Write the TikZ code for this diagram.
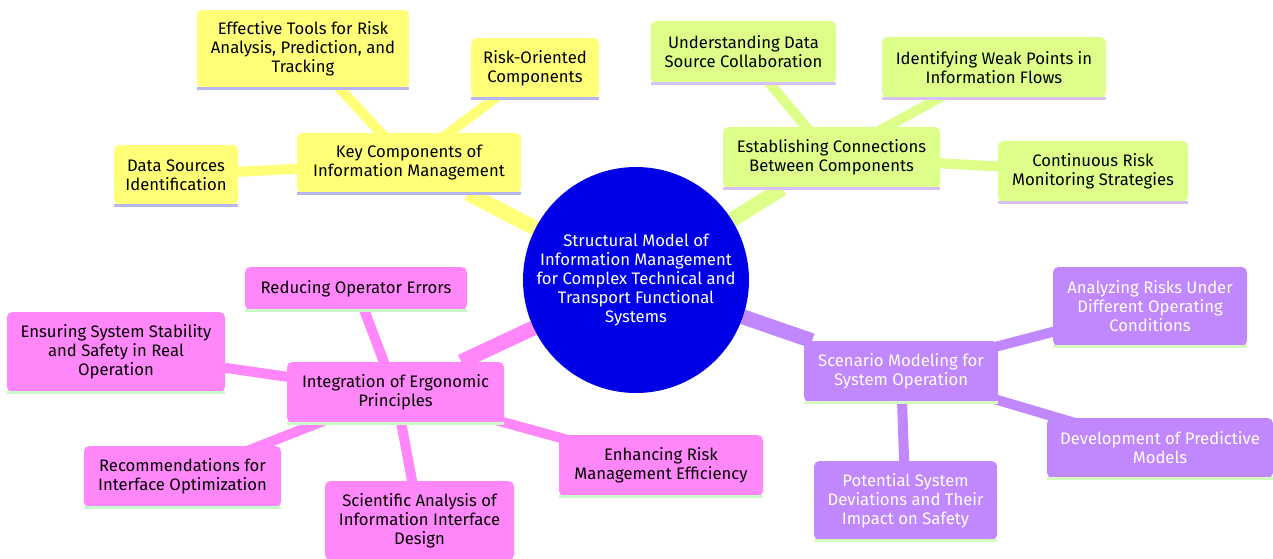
\documentclass[tikz,border=0pt]{standalone}
\usepackage{fontspec}
\setmainfont{Fira Sans}
\usetikzlibrary{backgrounds}

\definecolor{rootblue}{RGB}{0,0,230}
\definecolor{secyellow}{RGB}{255,255,120}
\definecolor{secgreen}{RGB}{221,255,138}
\definecolor{secpurple}{RGB}{193,135,252}
\definecolor{secpink}{RGB}{255,135,250}
\definecolor{lineyellow}{RGB}{182,182,238}
\definecolor{linegreen}{RGB}{216,192,250}
\definecolor{linepurple}{RGB}{212,250,192}
\definecolor{linepink}{RGB}{202,250,202}

\tikzset{
  box/.style={rounded corners=4pt, inner sep=0pt, align=center,
    font=\fontsize{12.5}{14.25}\selectfont},
  sz/.style 2 args={minimum width=#1*0.75pt, minimum height=#2*0.75pt},
  ybox/.style={box, fill=secyellow, text=black},
  gbox/.style={box, fill=secgreen, text=black},
  pbox/.style={box, fill=secpurple, text=white},
  kbox/.style={box, fill=secpink, text=black},
  rootedge/.style={line width=11.25pt},
  leafedge/.style={line width=7.5pt},
  stripe/.style={line width=2.25pt}
}

\begin{document}
\begin{tikzpicture}[x=0.75pt, y=-0.75pt]
  \useasboundingbox (0,0) rectangle (1273,558);

  % root
  \node[circle, fill=rootblue, text=white, minimum size=226*0.75pt, inner sep=0pt,
    align=center, font=\fontsize{12.5}{14.25}\selectfont] (root) at (636,280)
    {Structural Model of\\Information Management\\for Complex Technical and\\Transport Functional\\Systems};

  % key components
  \node[ybox, sz={224}{60}] (key) at (409,163) {Key Components of\\Information Management};
  \node[ybox, sz={212}{78}] (tools) at (303,49) {Effective Tools for Risk\\Analysis, Prediction, and\\Tracking};
  \node[ybox, sz={128}{60}] (riskcomp) at (535,68) {Risk-Oriented\\Components};
  \node[ybox, sz={124}{60}] (datasrc) at (176,175) {Data Sources\\Identification};

  % connections
  \node[gbox, sz={217}{61}] (estab) at (831.5,157.5) {Establishing Connections\\Between Components};
  \node[gbox, sz={185}{62}] (underst) at (743.5,52) {Understanding Data\\Source Collaboration};
  \node[gbox, sz={224}{61}] (weak) at (994,67.5) {Identifying Weak Points in\\Information Flows};
  \node[gbox, sz={190}{61}] (contin) at (1093,171.5) {Continuous Risk\\Monitoring Strategies};

  % scenario modeling
  \node[pbox, sz={194}{61}] (scen) at (901,371.5) {Scenario Modeling for\\System Operation};
  \node[pbox, sz={194}{79}] (analyz) at (1150,306.5) {Analyzing Risks Under\\Different Operating\\Conditions};
  \node[pbox, sz={226}{60}] (devel) at (1160,448) {Development of Predictive\\Models};
  \node[pbox, sz={183}{79}] (potent) at (905.5,500.5) {Potential System\\Deviations and Their\\Impact on Safety};

  % ergonomics
  \node[kbox, sz={217}{61}] (integ) at (395.5,392.5) {Integration of Ergonomic\\Principles};
  \node[kbox, sz={222}{43}] (reduc) at (356,288.5) {Reducing Operator Errors};
  \node[kbox, sz={218}{80}] (ensur) at (116,352) {Ensuring System Stability\\and Safety in Real\\Operation};
  \node[kbox, sz={197}{61}] (recom) at (182.5,476.5) {Recommendations for\\Interface Optimization};
  \node[kbox, sz={189}{79}] (scien) at (419.5,520.5) {Scientific Analysis of\\Information Interface\\Design};
  \node[kbox, sz={204}{61}] (enhan) at (661,465.5) {Enhancing Risk\\Management Efficiency};

  % bottom stripes
  \foreach \n/\c in {key/lineyellow, tools/lineyellow, riskcomp/lineyellow, datasrc/lineyellow,
      estab/linegreen, underst/linegreen, weak/linegreen, contin/linegreen,
      scen/linepurple, analyz/linepurple, devel/linepurple, potent/linepurple,
      integ/linepink, reduc/linepink, ensur/linepink, recom/linepink, scien/linepink, enhan/linepink}
    \draw[stripe, \c] (\n.south west) -- (\n.south east);

  \begin{scope}[on background layer]
    \draw[rootedge, secyellow] (root) -- (key);
    \draw[rootedge, secgreen] (root) -- (estab);
    \draw[rootedge, secpurple] (root) -- (scen);
    \draw[rootedge, secpink] (root) -- (integ);
    \foreach \n in {tools, riskcomp, datasrc}
      \draw[leafedge, secyellow] (key.center) -- (\n.center);
    \foreach \n in {underst, weak, contin}
      \draw[leafedge, secgreen] (estab.center) -- (\n.center);
    \foreach \n in {analyz, devel, potent}
      \draw[leafedge, secpurple] (scen.center) -- (\n.center);
    \foreach \n in {reduc, ensur, recom, scien, enhan}
      \draw[leafedge, secpink] (integ.center) -- (\n.center);
  \end{scope}
\end{tikzpicture}
\end{document}
